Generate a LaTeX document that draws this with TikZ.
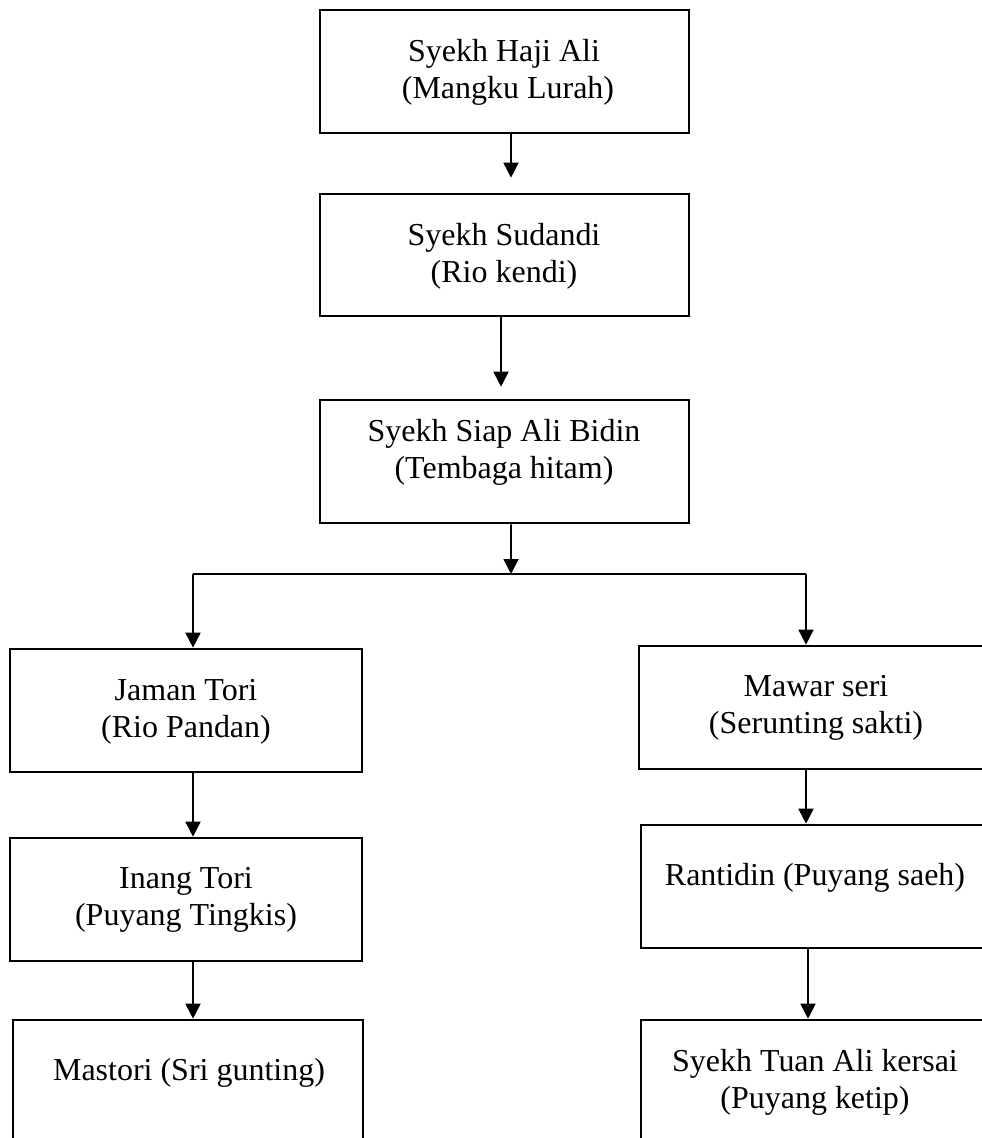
\documentclass[tikz,border=0pt]{standalone}
\usepackage{fontspec}
\setmainfont{Liberation Serif}
\usetikzlibrary{arrows.meta,calc}
\begin{document}
\begin{tikzpicture}[x=0.02cm,y=-0.02cm,
  box/.style={draw=black,line width=1.5pt,rectangle,inner sep=0pt,fill=white},
  txt/.style={align=center,inner sep=0pt,font=\fontsize{18.2pt}{21.05pt}\selectfont},
  arr/.style={line width=1.05pt,-{Triangle[length=0.3cm,width=0.3cm]}},
  hline/.style={line width=0.8pt}]
\useasboundingbox (0,0) rectangle (982,1138);
\clip (0,0) rectangle (982,1138);
\fill[white] (0,0) rectangle (982,1138);
% boxes
\node[box,minimum width=369*0.02cm,minimum height=123*0.02cm] (b1) at (504.5,71.5) {};
\node[box,minimum width=369*0.02cm,minimum height=122*0.02cm] (b2) at (504.5,255) {};
\node[box,minimum width=369*0.02cm,minimum height=123*0.02cm] (b3) at (504.5,461.5) {};
\node[box,minimum width=352*0.02cm,minimum height=123*0.02cm] (b4) at (186,710.5) {};
\node[box,minimum width=354*0.02cm,minimum height=123*0.02cm] (b5) at (816,707.5) {};
\node[box,minimum width=352*0.02cm,minimum height=123*0.02cm] (b6) at (186,899.5) {};
\node[box,minimum width=352*0.02cm,minimum height=123*0.02cm] (b7) at (817,886.5) {};
\node[box,minimum width=350*0.02cm,minimum height=130*0.02cm] (b8) at (188,1085) {};
\node[box,minimum width=352*0.02cm,minimum height=130*0.02cm] (b9) at (817,1085) {};
% texts
\node[txt] (t1) at (504,72) {Syekh Haji Ali\\\hspace*{0.25em}(Mangku Lurah)};
\node[txt] (t2) at (504,256) {Syekh Sudandi\\(Rio kendi)};
\node[txt] (t3) at (504,452) {Syekh Siap Ali Bidin\\(Tembaga hitam)};
\node[txt] (t4) at (186,712) {Jaman Tori\\(Rio Pandan)};
\node[txt] (t5) at (816,708) {Mawar seri\\(Serunting sakti)};
\node[txt] (t6) at (186,900) {Inang Tori\\(Puyang Tingkis)};
\node[txt] (t7) at (815,878) {Rantidin (Puyang saeh)};
\node[txt] (t8) at (189,1073) {Mastori (Sri gunting)};
\node[txt] (t9) at (815,1082) {Syekh Tuan Ali kersai\\(Puyang ketip)};
% connectors
\coordinate (hl) at (193,574);
\coordinate (hm) at (511,574);
\coordinate (hr) at (806,574);
\draw[arr,shorten >=15*0.02cm] ($(b1.south)+(6.5,0)$) -- ($(b2.north)+(6.5,0)$);
\draw[arr,shorten >=12*0.02cm] ($(b2.south)+(-3.5,0)$) -- ($(b3.north)+(-3.5,0)$);
\draw[hline] (hl) -- (hr);
\draw[arr] ($(b3.south)+(6.5,0)$) -- (hm);
\draw[arr] (hl) -- (hl |- b4.north);
\draw[arr] (hr) -- (hr |- b5.north);
\draw[arr] ($(b4.south)+(7,0)$) -- ($(b6.north)+(7,0)$);
\draw[arr] ($(b6.south)+(7,0)$) -- ($(b8.north)+(5,0)$);
\draw[arr] ($(b5.south)+(-10,0)$) -- ($(b7.north)+(-11,0)$);
\draw[arr] ($(b7.south)+(-9,0)$) -- ($(b9.north)+(-9,0)$);
\end{tikzpicture}
\end{document}
